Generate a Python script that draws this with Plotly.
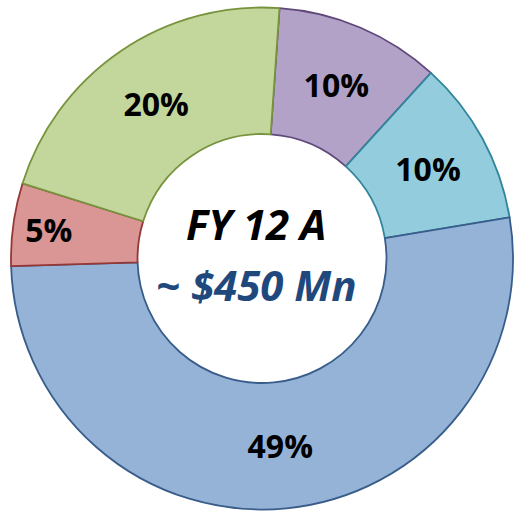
import plotly.graph_objects as go

# Revenue split, clockwise from the top
segments = ["Segment D", "Segment E", "Segment A", "Segment B", "Segment C"]
shares = [10, 10, 49, 5, 20]
fill_colors = ["#B3A2C7", "#93CDDD", "#95B3D7", "#D99694", "#C3D69B"]
edge_colors = ["#5F497A", "#31859C", "#385D8A", "#953735", "#77933C"]

title_line = "FY 12 A"
total_line = "~ $450 Mn"

W, H = 515, 512

fig = go.Figure(
    go.Pie(
        labels=segments,
        values=shares,
        sort=False,
        direction="clockwise",
        rotation=4,
        hole=0.496,
        marker=dict(colors=fill_colors, line=dict(color=edge_colors, width=1.8)),
        texttemplate="%{value}%",
        textposition="inside",
        insidetextorientation="horizontal",
        textfont=dict(family="Open Sans", size=32, color="black", weight="bold"),
        hoverinfo="label+percent",
        domain=dict(x=[11 / W, 513 / W], y=[2.5 / H, 504.5 / H]),
        showlegend=False,
    )
)

fig.add_annotation(
    x=256 / W, y=1 - 223 / H, xref="paper", yref="paper",
    text=f"<b><i>{title_line}</i></b>", showarrow=False,
    font=dict(family="Open Sans", size=42, color="black"),
)
fig.add_annotation(
    x=256 / W, y=1 - 284 / H, xref="paper", yref="paper",
    text=f"<b><i>{total_line}</i></b>", showarrow=False,
    font=dict(family="Open Sans", size=42, color="#1F497D"),
)

fig.update_layout(
    width=W, height=H,
    margin=dict(l=0, r=0, t=0, b=0),
    paper_bgcolor="white",
    plot_bgcolor="white",
    uniformtext=dict(minsize=32, mode="show"),
)

fig.write_html("out.html")
